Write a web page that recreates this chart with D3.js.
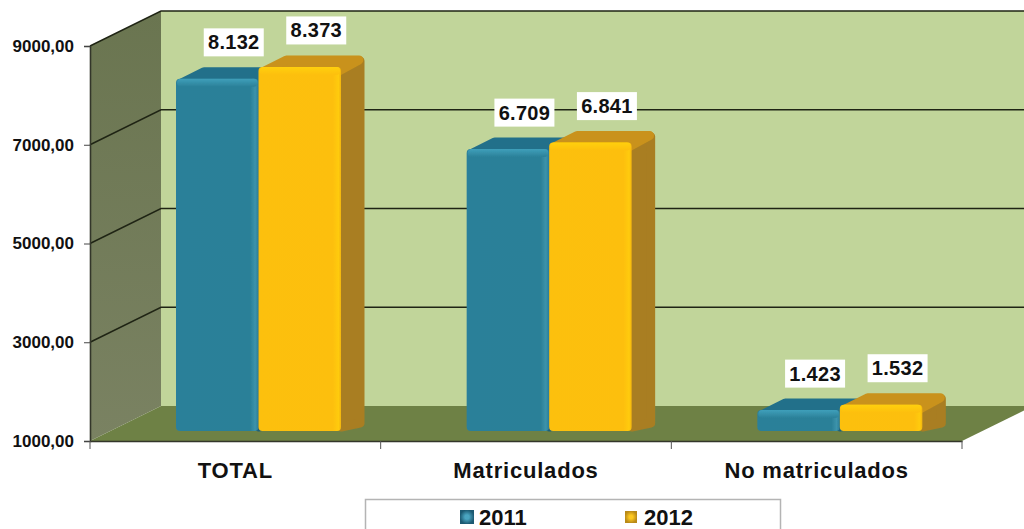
<!DOCTYPE html>
<html><head><meta charset="utf-8">
<script src="https://cdn.jsdelivr.net/npm/d3@7"></script>
<style>html,body{margin:0;background:#fff}svg{display:block}text{font-family:"Liberation Sans",Arial,sans-serif;font-weight:bold;fill:#111}</style>
</head><body><svg id="c" width="1024" height="529"></svg>
<script>
const categories=["TOTAL","Matriculados","No matriculados"];
const seriesNames=["2011","2012"];
const values2011=[8132,6709,1423];
const values2012=[8373,6841,1532];
const valueLabels2011=["8.132","6.709","1.423"];
const valueLabels2012=["8.373","6.841","1.532"];
const yTickValues=[1000,3000,5000,7000,9000];

const svg=d3.select("#c");
const y=d3.scaleLinear().domain([1000,9000]).range([441,46]);
const x=d3.scaleBand().domain(categories).range([90,962]);
const x1=d3.scaleBand().domain(seriesNames).range([86,251]);
const dx=71,dy=-35;          // depth of the box
const barLift=-10,barDx=24,barDy=-12; // bar offset into the box and bar depth
const defs=svg.append("defs");
function lg(id,stops,horizontal=true){
  const g=defs.append("linearGradient").attr("id",id).attr("x1",0).attr("y1",0).attr("x2",horizontal?1:0).attr("y2",horizontal?0:1);
  stops.forEach(s=>g.append("stop").attr("offset",s[0]).attr("stop-color",s[1]));
}
lg("teal",[[0,"#2a7f9c"],[.03,"#2b8099"],[.9,"#2b8098"],[.96,"#3c93ab"],[1,"#2a7c96"]]);
lg("tealHi",[[0,"#3f9fba"],[1,"#2b8098"]],false);
lg("gold",[[0,"#fcc010"],[.9,"#fdbf10"],[.97,"#ffcb08"],[1,"#f2b410"]]);
lg("goldHi",[[0,"#ffd00a"],[1,"#fdbf10"]],false);
lg("wall",[[0,"#6a7550"],[1,"#7a8262"]],false);
defs.append("radialGradient").attr("id","legT").call(g=>{g.append("stop").attr("offset",.3).attr("stop-color","#4aa5c0");g.append("stop").attr("offset",1).attr("stop-color","#1c5a72");});
defs.append("radialGradient").attr("id","legG").call(g=>{g.append("stop").attr("offset",.3).attr("stop-color","#fdc820");g.append("stop").attr("offset",1).attr("stop-color","#b98a18");});
defs.append("filter").attr("id","soft").append("feGaussianBlur").attr("stdDeviation",.6);
const poly=(pts,fill)=>svg.append("polygon").attr("points",pts.map(p=>p.join(",")).join(" ")).attr("fill",fill);

const xL=x.range()[0],xR=x.range()[1],y0=y(1000),yT=y(9000);
// back wall, side wall, floor
svg.append("rect").attr("x",xL+dx).attr("y",yT+dy).attr("width",1024-xL-dx).attr("height",y0-yT).attr("fill","#c1d59a");
poly([[xL,yT],[xL+dx,yT+dy],[xL+dx,y0+dy],[xL,y0]],"url(#wall)");
poly([[xL,y0],[xL+dx,y0+dy],[xR+dx,y0+dy],[xR,y0]],"#6e8145");
// gridlines
const grid=svg.append("g").attr("fill","none").attr("stroke","#1f2414").attr("stroke-width",1.4);
yTickValues.slice(1).forEach(v=>{
  grid.append("path").attr("d",`M${xL},${y(v)}L${xL+dx},${y(v)+dy}H1024`);
});
// axes
const axL=svg.append("g").attr("transform",`translate(${xL},0)`)
  .call(d3.axisLeft(y).tickValues(yTickValues).tickFormat(d=>d3.format(".2f")(d).replace(".",",")).tickSize(6).tickPadding(10));
axL.selectAll("text").style("font-size","17px").attr("dy","0.32em");
const axB=svg.append("g").attr("transform",`translate(0,${y0})`)
  .call(d3.axisBottom(x).tickSize(0).tickPadding(21));
axB.selectAll("text").style("font-size","22px").style("letter-spacing","0.8px").attr("dy","0.71em");
svg.selectAll(".domain").attr("stroke","#33362a").attr("stroke-width",1.6);
svg.selectAll(".tick line").attr("stroke","#444");
// category separators on the bottom axis
const edges=categories.map(c=>x(c)).concat([xR]);
axB.selectAll(".sep").data(edges).join("line").attr("class","sep")
  .attr("x1",d=>d).attr("x2",d=>d).attr("y1",0).attr("y2",8).attr("stroke","#555");

// bars
const series=[
 {name:"2011",vals:values2011,labels:valueLabels2011,front:"url(#teal)",hi:"url(#tealHi)",top:"#23708a",side:"#1f6078"},
 {name:"2012",vals:values2012,labels:valueLabels2012,front:"url(#gold)",hi:"url(#goldHi)",top:"#c9921c",side:"#a97e22"}
];
const bars=svg.append("g").attr("filter","url(#soft)");
categories.forEach((c,i)=>{
  series.forEach(s=>{
    const l=x(c)+x1(s.name),w=x1.bandwidth(),t=y(s.vals[i])+barLift,b=y0+barLift;
    const g=bars.append("g");
    const face=(pts,f)=>g.append("polygon").attr("points",pts.map(p=>p.join(",")).join(" "))
      .attr("fill",f).attr("stroke",f).attr("stroke-width",9).attr("stroke-linejoin","round");
    face([[l+w,t+6],[l+w+barDx-5,t+barDy+6],[l+w+barDx-5,b+barDy+4],[l+w,b-4]],s.side);
    face([[l+6,t+4],[l+barDx+4,t+barDy+5],[l+w+barDx-6,t+barDy+5],[l+w-4,t+5]],s.top);
    g.append("rect").attr("x",l).attr("y",t).attr("width",w).attr("height",b-t).attr("rx",4).attr("fill",s.front);
    g.append("rect").attr("x",l+1).attr("y",t).attr("width",w-2).attr("height",8).attr("rx",4).attr("fill",s.hi);
  });
});
// value labels
series.forEach(s=>{
  categories.forEach((c,i)=>{
    const cx=x(c)+x1(s.name)+x1.bandwidth()/2+16.5,cy=y(s.vals[i])+barLift-36.5;
    svg.append("rect").attr("x",cx-30).attr("y",cy-14).attr("width",60).attr("height",28).attr("fill","#fff");
    svg.append("text").attr("x",cx).attr("y",cy).attr("dy","0.35em").attr("text-anchor","middle")
      .style("font-size","20px").style("letter-spacing","0.3px").text(s.labels[i]);
  });
});
// legend
svg.append("rect").attr("x",365.5).attr("y",499.5).attr("width",415).attr("height",40).attr("fill","#fff").attr("stroke","#b4b4b4").attr("stroke-width",1.5);
const lx=d3.scalePoint().domain(seriesNames).range([460,625]);
series.forEach((s,i)=>{
  svg.append("rect").attr("x",lx(s.name)).attr("y",i?511:510).attr("width",i?12:14).attr("height",i?12:14)
    .attr("fill",i?"url(#legG)":"url(#legT)");
  svg.append("text").attr("x",lx(s.name)+19).attr("y",525).style("font-size","22px").text(s.name);
});
</script></body></html>
